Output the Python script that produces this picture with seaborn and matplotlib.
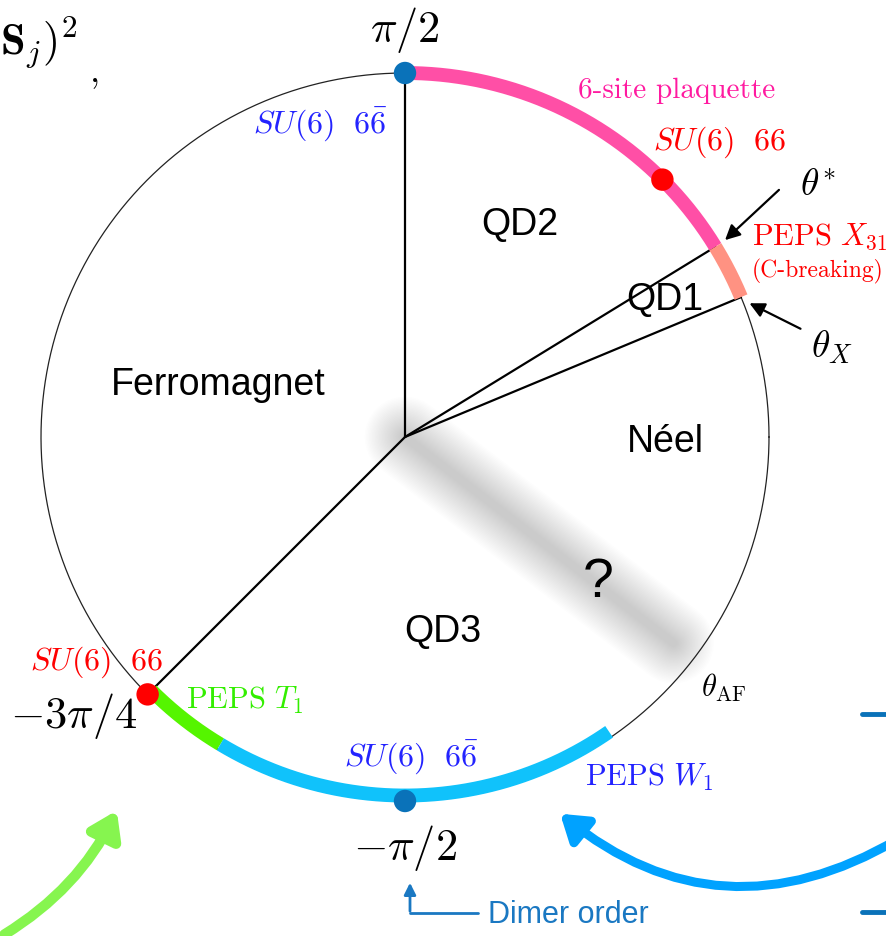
import numpy as np
import pandas as pd
import matplotlib
matplotlib.use("Agg")
import matplotlib.pyplot as plt
from matplotlib.patches import FancyArrowPatch
import seaborn as sns

# phase boundaries (radians)
theta_top = np.pi / 2
theta_star = np.deg2rad(31.5)
theta_x = np.deg2rad(22.6)
theta_af = np.deg2rad(-37.5)
theta_ferro = -3 * np.pi / 4
boundary_angles = [theta_top, theta_star, theta_x, theta_ferro]

# highlighted arcs: start, end, colour, radius
arc_starts = [theta_star, theta_x, theta_ferro, np.deg2rad(-121)]
arc_ends = [theta_top, theta_star, np.deg2rad(-121), np.deg2rad(-55.3)]
arc_colors = ["#ff4fa6", "#ff9282", "#55f500", "#10c2fb"]
arc_radii = [1.0, 1.0, 0.985, 0.985]

# special points
point_angles = [np.pi / 2, np.pi / 4, -3 * np.pi / 4, -np.pi / 2]
point_colors = ["#0a72b9", "#ff0000", "#ff0000", "#0a72b9"]

CX, CY, R = 405, 437, 364


def px(x, y):
    return (x - CX) / R, (CY - y) / R


sns.set_theme(style="white")
plt.rcParams["mathtext.fontset"] = "cm"
plt.rcParams["font.family"] = ["Liberation Sans", "DejaVu Sans"]

fig = plt.figure(figsize=(8.86, 9.36), dpi=100)
ax = fig.add_axes([0, 0, 1, 1])
ax.set_xlim(-CX / R, (886 - CX) / R)
ax.set_ylim(-(936 - CY) / R, CY / R)
ax.set_aspect("equal")
ax.axis("off")

# gray "?" band along theta_AF, built from many faint strokes
band_r = np.array([0.0, 0.93])
for w in np.linspace(58, 6, 26):
    ax.plot(band_r * np.cos(theta_af), band_r * np.sin(theta_af), color="#8a8a8a",
            lw=w, alpha=0.016, solid_capstyle="round", zorder=1)

# circle
t = np.linspace(0, 2 * np.pi, 720)
ax.plot(np.cos(t), np.sin(t), color="#222222", lw=0.9, zorder=2)

# radial boundaries
for a in boundary_angles:
    ax.plot([0, np.cos(a)], [0, np.sin(a)], color="black", lw=1.6, zorder=3)

# coloured arcs
for a0, a1, c, r in zip(arc_starts, arc_ends, arc_colors, arc_radii):
    tt = np.linspace(a0, a1, 200)
    ax.plot(r * np.cos(tt), r * np.sin(tt), color=c, lw=10, solid_capstyle="butt", zorder=4)

# points
pts = pd.DataFrame({"x": np.cos(point_angles), "y": np.sin(point_angles), "c": point_colors})
sns.scatterplot(data=pts, x="x", y="y", hue="c", palette={c: c for c in set(point_colors)},
                s=260, edgecolor="none", legend=False, ax=ax, zorder=6)

blue_txt = "#2323ff"
red_txt = "#ff0000"
math_fs = 32
su_fs = 23


def txt(x, y, s, **kw):
    ax.text(*px(x, y), s, **kw)


txt(405, 30, r"$\pi/2$", fontsize=math_fs, ha="center", va="center", color="black")
txt(405, 848, r"$-\pi/2$", fontsize=math_fs, ha="center", va="center", color="black")
txt(74, 716, r"$-3\pi/4$", fontsize=math_fs, ha="center", va="center", color="black")
txt(0, 42, r"$\mathbf{S}_j)^2$", fontsize=32, ha="left", va="center", color="black")
txt(95, 72, ",", fontsize=26, ha="center", va="center", color="black", family="cmr10")

txt(320, 124, r"$SU(6)\ \ 6\bar{6}$", fontsize=su_fs, ha="center", va="center", color=blue_txt)
txt(677, 91, "6-site plaquette", fontsize=21, ha="center", va="center", color="#ff1aa0",
    family="cmr10")
txt(720, 142, r"$SU(6)\ \ 66$", fontsize=su_fs, ha="center", va="center", color=red_txt)
txt(818, 185, r"$\theta^{*}$", fontsize=27, ha="center", va="center", color="black")
txt(752, 237, r"$\mathrm{PEPS}\ X_{31}$", fontsize=22, ha="left", va="center", color=red_txt)
txt(752, 271, "(C-breaking)", fontsize=17, ha="left", va="center", color=red_txt, family="cmr10")
txt(832, 347, r"$\theta_X$", fontsize=27, ha="center", va="center", color="black")
txt(724, 688, r"$\theta_{\mathrm{AF}}$", fontsize=22, ha="center", va="center", color="black")
txt(97, 662, r"$SU(6)\ \ 66$", fontsize=su_fs, ha="center", va="center", color=red_txt)
txt(186, 700, r"$\mathrm{PEPS}\ T_1$", fontsize=22, ha="left", va="center", color="#33ee00")
txt(411, 757, r"$SU(6)\ \ 6\bar{6}$", fontsize=su_fs, ha="center", va="center", color=blue_txt)
txt(585, 777, r"$\mathrm{PEPS}\ W_1$", fontsize=22, ha="left", va="center", color=blue_txt)

for x, y, s in [(520, 225, "QD2"), (665, 300, "QD1"), (218, 385, "Ferromagnet"),
                (665, 442, "Néel"), (443, 632, "QD3")]:
    txt(x, y, s, fontsize=27, ha="center", va="center", color="black")
txt(598, 583, "?", fontsize=40, ha="center", va="center", color="black")
txt(488, 915, "Dimer order", fontsize=22, ha="left", va="center", color="#1a78c2")


# pointer arrows
def arrow(p0, p1, color, lw, head, rad=0.0):
    ax.add_patch(FancyArrowPatch(px(*p0), px(*p1), arrowstyle=head, color=color, lw=lw,
                                 connectionstyle=f"arc3,rad={rad}", zorder=7))


arrow((781, 188), (723, 242), "black", 1.6, "-|>,head_length=9,head_width=4.5")
arrow((803, 330), (747, 302), "black", 1.6, "-|>,head_length=9,head_width=4.5")
arrow((2, 936), (118, 808), "#86f54f", 7.5, "-|>,head_length=15,head_width=10", rad=0.15)
arrow((900, 838), (558, 812), "#00a2ff", 6.5, "-|>,head_length=15,head_width=10", rad=-0.35)

# dimer order L-shaped pointer
ax.plot(*zip(px(410, 913), px(478, 913)), color="#1a78c2", lw=2, zorder=7)
arrow((410, 914), (410, 880), "#1a78c2", 2, "-|>,head_length=7,head_width=3.5")

# cut-off ticks on right edge
for y in [714, 912]:
    ax.plot(*zip(px(862, y), px(890, y)), color="#0a72b9", lw=3.5, zorder=7)

fig.savefig("out.png", dpi=100)
